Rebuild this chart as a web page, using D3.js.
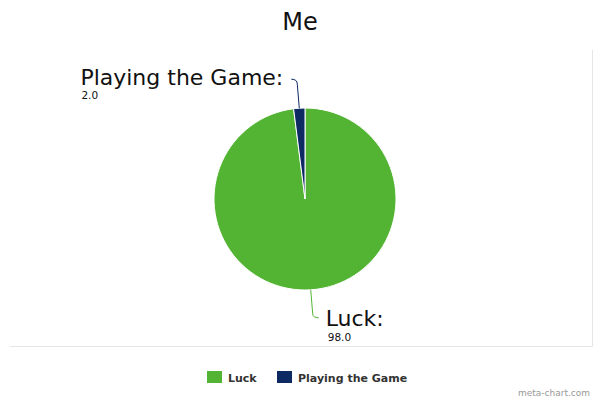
<!DOCTYPE html>
<html><head><meta charset="utf-8">
<script src="https://cdn.jsdelivr.net/npm/d3@7"></script>
<style>body{margin:0;background:#fff}svg{display:block}</style>
</head><body>
<svg id="c" width="600" height="400"></svg>
<script>
const categories = ["Luck", "Playing the Game"];
const values = [98.0, 2.0];
const colors = ["#52b432", "#0d2a62"];
const title = "Me";

const svg = d3.select("#c");
const font = "DejaVu Sans, Verdana, sans-serif";

// panel border
svg.append("path").attr("d","M10,346.5 H592.5 V50").attr("fill","none").attr("stroke","#e6e6e6").attr("stroke-width",1);

svg.append("text").attr("x",300).attr("y",30).attr("text-anchor","middle")
  .attr("font-family",font).attr("font-size",24).attr("fill","#111").text(title);

const cx = 305, cy = 199, r = 91;
const pie = d3.pie().sort(null).value(d => d.v);
const data = pie(categories.map((c,i)=>({c, v: values[i], col: colors[i]})));
const arc = d3.arc().innerRadius(0).outerRadius(r);
const g = svg.append("g").attr("transform",`translate(${cx},${cy})`);
g.selectAll("path.s").data(data).join("path").attr("class","s")
  .attr("d",arc).attr("fill",d=>d.data.col).attr("stroke","#fff").attr("stroke-width",1);

// leader lines & labels
data.forEach((d,i)=>{
  const mid = (d.startAngle + d.endAngle)/2;
  const px = Math.sin(mid)*r, py = -Math.cos(mid)*r;
  const up = py < 0;
  const ey = up ? py - 24 : py + 24;
  const ex = px + (up ? -2 : 2);
  const tx = up ? ex - 6 : ex + 6;
  const ty = up ? ey - 5 : ey + 4;
  g.append("path")
    .attr("d",`M${px},${py} L${ex},${ey} Q${ex},${ty} ${tx},${ty}`)
    .attr("fill","none").attr("stroke",d.data.col).attr("stroke-width",1);
  const t = svg.append("g");
  if (up) {
    const big = t.append("text").attr("x",cx+tx-8).attr("y",cy+ty+6).attr("text-anchor","end")
      .attr("font-family",font).attr("font-size",22).attr("fill","#111").text(d.data.c+":");
    const bx = big.node().getBBox().x;
    t.append("text").attr("x",bx+1).attr("y",cy+ty+20)
      .attr("font-family",font).attr("font-size",10.5).attr("fill","#111").text(d.data.v.toFixed(1));
  } else {
    t.append("text").attr("x",cx+tx+7).attr("y",cy+ty+8)
      .attr("font-family",font).attr("font-size",22).attr("fill","#111").text(d.data.c+":");
    t.append("text").attr("x",cx+tx+9).attr("y",cy+ty+23)
      .attr("font-family",font).attr("font-size",10.5).attr("fill","#111").text(d.data.v.toFixed(1));
  }
});

// legend
const lx = [207, 277];
categories.forEach((c,i)=>{
  svg.append("rect").attr("x",lx[i]).attr("y",371).attr("width",15).attr("height",12).attr("fill",colors[i]);
  svg.append("text").attr("x",lx[i]+21).attr("y",382).attr("font-family",font)
    .attr("font-size",11).attr("font-weight","bold").attr("fill","#333").text(c);
});

svg.append("text").attr("x",590).attr("y",396).attr("text-anchor","end")
  .attr("font-family",font).attr("font-size",9).attr("fill","#999").text("meta-chart.com");
</script>
</body></html>
